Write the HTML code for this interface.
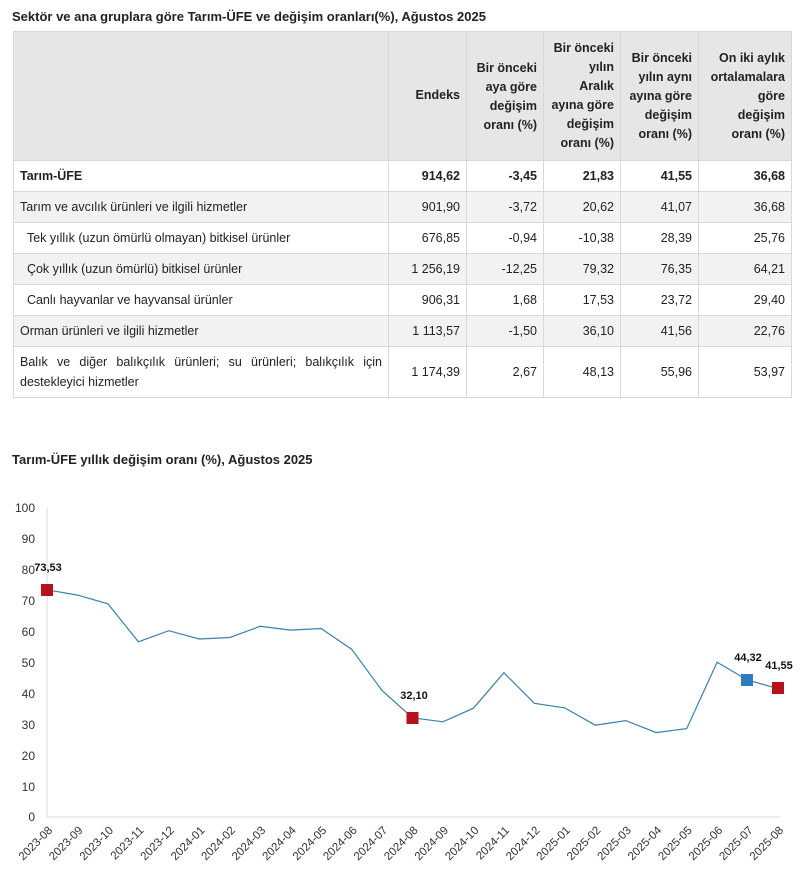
<!DOCTYPE html>
<html><head><meta charset="utf-8">
<style>
body{margin:0;background:#fff;font-family:"Liberation Sans",sans-serif;color:#222;}
.t1{position:absolute;left:12px;top:9px;font-size:13px;font-weight:bold;}
table{position:absolute;left:13px;top:31px;border-collapse:collapse;font-size:12.5px;}
td,th{border:1px solid #d8d8d8;padding:0 6px;text-align:right;}
th{background:#e6e6e6;font-weight:bold;vertical-align:bottom;padding-bottom:7px;line-height:19px;font-size:12.5px;}
tr.g td{background:#f2f2f2;}
td:first-child{text-align:left;}
.c2{position:absolute;left:12px;top:452px;font-size:13px;font-weight:bold;}
</style></head><body>
<div class="t1">Sektör ve ana gruplara göre Tarım-ÜFE ve değişim oranları(%), Ağustos 2025</div>
<table>
<colgroup><col style="width:375px"><col style="width:78px"><col style="width:77px"><col style="width:77px"><col style="width:78px"><col style="width:93px"></colgroup>
<tr style="height:129px"><th></th><th style="padding-bottom:55px">Endeks</th><th style="padding-bottom:25px">Bir önceki<br>aya göre<br>değişim<br>oranı (%)</th><th>Bir önceki<br>yılın<br>Aralık<br>ayına göre<br>değişim<br>oranı (%)</th><th style="padding-bottom:16px">Bir önceki<br>yılın aynı<br>ayına göre<br>değişim<br>oranı (%)</th><th style="padding-bottom:16px">On iki aylık<br>ortalamalara<br>göre<br>değişim<br>oranı (%)</th></tr>
<tr style="height:31px;font-weight:bold"><td>Tarım-ÜFE</td><td>914,62</td><td>-3,45</td><td>21,83</td><td>41,55</td><td>36,68</td></tr>
<tr class="g" style="height:31px"><td>Tarım ve avcılık ürünleri ve ilgili hizmetler</td><td>901,90</td><td>-3,72</td><td>20,62</td><td>41,07</td><td>36,68</td></tr>
<tr style="height:31px"><td>&nbsp;&nbsp;Tek yıllık (uzun ömürlü olmayan) bitkisel ürünler</td><td>676,85</td><td>-0,94</td><td>-10,38</td><td>28,39</td><td>25,76</td></tr>
<tr class="g" style="height:31px"><td>&nbsp;&nbsp;Çok yıllık (uzun ömürlü) bitkisel ürünler</td><td>1 256,19</td><td>-12,25</td><td>79,32</td><td>76,35</td><td>64,21</td></tr>
<tr style="height:31px"><td>&nbsp;&nbsp;Canlı hayvanlar ve hayvansal ürünler</td><td>906,31</td><td>1,68</td><td>17,53</td><td>23,72</td><td>29,40</td></tr>
<tr class="g" style="height:31px"><td>Orman ürünleri ve ilgili hizmetler</td><td>1 113,57</td><td>-1,50</td><td>36,10</td><td>41,56</td><td>22,76</td></tr>
<tr style="height:51px"><td style="text-align:justify;line-height:20px">Balık ve diğer balıkçılık ürünleri; su ürünleri; balıkçılık için destekleyici hizmetler</td><td>1 174,39</td><td>2,67</td><td>48,13</td><td>55,96</td><td>53,97</td></tr>
</table>
<div class="c2">Tarım-ÜFE yıllık değişim oranı (%), Ağustos 2025</div>
<svg width="803" height="887" style="position:absolute;left:0;top:0" font-family="Liberation Sans, sans-serif">
<line x1="47" y1="508" x2="47" y2="817" stroke="#d9d9d9"/>
<line x1="47" y1="817" x2="780" y2="817" stroke="#d9d9d9"/>
<g font-size="12" fill="#333" text-anchor="end">
<text x="35" y="512">100</text><text x="35" y="543">90</text><text x="35" y="574">80</text><text x="35" y="605">70</text><text x="35" y="636">60</text><text x="35" y="667">50</text><text x="35" y="698">40</text><text x="35" y="729">30</text><text x="35" y="760">20</text><text x="35" y="791">10</text><text x="35" y="821">0</text>
</g>
<polyline id="pl" fill="none" stroke="#3a7fb4" stroke-width="1.2"/>
<g id="xl" font-size="11.5" fill="#333" text-anchor="end"></g>
<rect x="41" y="584" width="12" height="12" fill="#b5121b"/>
<rect x="406.5" y="712" width="12" height="12" fill="#b5121b"/>
<rect x="741" y="674" width="12" height="12" fill="#2e7cc0"/>
<rect x="772" y="682" width="12" height="12" fill="#b5121b"/>
<g font-size="11" font-weight="bold" fill="#111" text-anchor="middle">
<text x="48" y="571">73,53</text><text x="414" y="699">32,10</text><text x="748" y="661">44,32</text><text x="779" y="669">41,55</text>
</g>
</svg>
<script>
var v=[73.53,71.8,69,56.7,60.3,57.6,58.1,61.7,60.5,61,54.3,40.9,32.1,30.8,35.2,46.7,36.8,35.3,29.7,31.2,27.3,28.6,50.1,44.32,41.55];
var p=[],g=document.getElementById('xl'),s='';
for(var i=0;i<v.length;i++){var x=47+i*30.46,y=817-v[i]*3.09;p.push(x.toFixed(1)+','+y.toFixed(1));
var m=2023*12+7+i,yy=Math.floor(m/12),mm=m%12+1;var lab=yy+'-'+(mm<10?'0':'')+mm;
s+='<text transform="translate('+(x+6)+',831) rotate(-45)">'+lab+'</text>';}
document.getElementById('pl').setAttribute('points',p.join(' '));g.innerHTML=s;
</script>
</body></html>
